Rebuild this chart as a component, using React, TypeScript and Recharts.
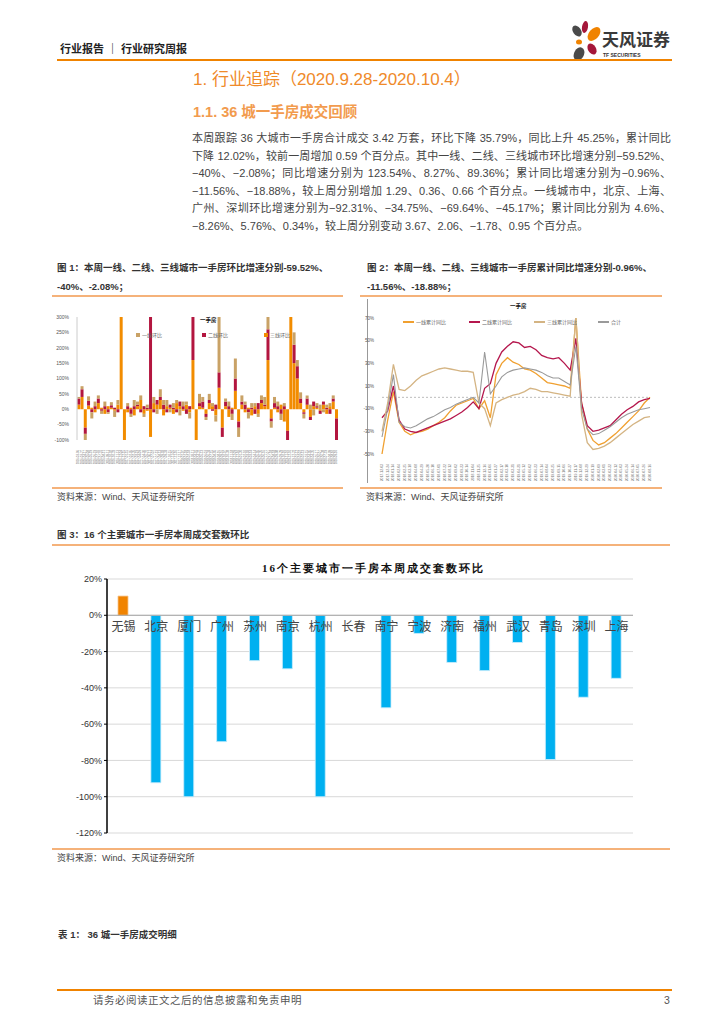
import React from 'react';
import {
  BarChart,
  Bar,
  LineChart,
  Line,
  XAxis,
  YAxis,
  CartesianGrid,
  ReferenceLine,
  ReferenceDot,
  Cell,
} from 'recharts';

// ---- 图3：16个主要城市一手房本周成交套数环比 ----
const cities = ['无锡', '北京', '厦门', '广州', '苏州', '南京', '杭州', '长春', '南宁', '宁波', '济南', '福州', '武汉', '青岛', '深圳', '上海'];
const cityChange = [10.6, -92.31, -100, -69.64, -25, -29.5, -100, 0, -51, -10, -26, -30.5, -15, -79.5, -45.17, -34.75];
const cityTicks = [20, 0, -20, -40, -60, -80, -100, -120];

// ---- 图1：一线、二线、三线城市一手房环比 (周) ----
const tier3Weekly = [
  15, 40, -60, 12, 5, -10, 20, 5, -15, 10,
  5, -5, 15, 300, -100, -10, 5, -20, 10, 30,
  -15, -5, -90, 20, 15, 30, -20, 10, 5, -15,
  20, 10, -5, 15, -10, 160, -100, 10, 5, -15,
  20, 10, -20, 70, -60, 10, -25, 5, 60, -40,
  15, -10, 5, -20, 10, -15, 20, 10, 160, -30,
  5, -10, 15, -40, -70, 300, 150, 100, 20, -10,
  15, -25, 10, 5, -5, 15, -15, 10, 25, -30,
];
const tier2Weekly = [
  20, 25, -20, 15, -10, 10, 15, -5, 10, -10,
  8, 5, -10, 0, -5, 10, -15, 10, 5, -10,
  10, 5, 300, -10, 15, 10, 15, -10, 10, 5,
  -10, 15, 10, -15, 10, 200, 0, 10, 20, -10,
  10, -5, 15, 50, -30, 15, 10, -15, 40, -20,
  10, 15, -10, 5, -15, 20, 10, 5, 100, -10,
  15, 10, -15, 10, -30, 200, 60, 40, 15, -5,
  20, -10, 15, 5, -10, 10, 5, -15, 10, -70,
];
const tier1Weekly = [
  5, 10, -25, 15, -20, 15, 10, -10, 15, -5,
  10, -20, 15, 0, 0, 10, -10, 20, 10, 15,
  -10, 10, 0, 20, -15, 25, 15, 20, -10, 15,
  10, -20, 15, 10, -20, 0, 0, 30, 15, -10,
  20, 10, -20, 180, 0, 10, 15, -20, 65, -30,
  20, 10, -20, 15, 10, -10, 15, 25, 50, -20,
  20, 15, -20, 10, -20, 300, 40, 20, 20, -15,
  10, 15, -20, 10, 15, -10, 10, 10, 10, -10,
];
const weeklyTicks = [-100, -50, 0, 50, 100, 150, 200, 250, 300];

// ---- 图2：一手房累计同比 ----
const tier1Ytd = [-50, -20, 5, -22, -30, -33, -31, -30, -28, -25, -22, -18, -12, -7, -5, -3, -1, -10, -3, -18, 20, 30, 35, 31, 29, 25, 24, 21, 17, 13, 12, 11, 10, 8, 70, -5, -28, -38, -42, -40, -36, -32, -27, -22, -17, -12, -5, 0];
const tier2Ytd = [-18, -12, 10, -20, -28, -30, -31, -29, -27, -25, -23, -21, -19, -16, -13, -9, -4, -10, 8, 12, 30, 40, 45, 49, 48, 44, 45, 42, 37, 35, 34, 35, 30, 24, 52, -5, -25, -30, -29, -27, -25, -20, -15, -11, -8, -4, -2, -1];
const tier3Ytd = [-30, -5, 29, 7, 6, 10, 15, 19, 21, 23, 25, 26, 25, 24, 23, 23, 22, -5, -10, -25, -5, -2, 0, 2, 3, 5, 8, 7, 5, 5, 4, 3, 2, 1, 72, -15, -40, -46, -45, -43, -40, -36, -32, -28, -24, -21, -18, -17];
const totalYtd = [-35, -10, 20, -22, -26, -27, -25, -22, -19, -17, -14, -11, -9, -6, -4, -2, 0, -5, 40, 3, 10, 18, 22, 24, 25, 26, 25, 24, 22, 19, 17, 17, 14, 11, 45, -10, -28, -33, -32, -29, -26, -22, -18, -15, -13, -11, -10, -9];
const ytdTicks = [-50, -30, -10, 10, 30, 50, 70];

const bodyLines = [
  '本周跟踪 36 大城市一手房合计成交 3.42 万套，环比下降 35.79%，同比上升 45.25%，累计同比',
  '下降 12.02%，较前一周增加 0.59 个百分点。其中一线、二线、三线城市环比增速分别−59.52%、',
  '−40%、−2.08%；同比增速分别为 123.54%、8.27%、89.36%；累计同比增速分别为−0.96%、',
  '−11.56%、−18.88%，较上周分别增加 1.29、0.36、0.66 个百分点。一线城市中，北京、上海、',
  '广州、深圳环比增速分别为−92.31%、−34.75%、−69.64%、−45.17%；累计同比分别为 4.6%、',
  '−8.26%、5.76%、0.34%，较上周分别变动 3.67、2.06、−1.78、0.95 个百分点。',
];

const weekLabels = (start: string, n: number, step: number) =>
  Array.from({ length: n }, (_, i) => {
    const d = new Date(start + 'T00:00:00Z');
    d.setUTCDate(d.getUTCDate() + i * step);
    return d.toISOString().slice(0, 10);
  });

const weeklyDates = weekLabels('2016-03-06', tier3Weekly.length, 21);
const ytdDates = weekLabels('2017-12-03', tier1Ytd.length, 21);

const cityData = cities.map((city, i) => ({ city, value: cityChange[i] }));
const weeklyData = weeklyDates.map((date, i) => ({
  date,
  t3: tier3Weekly[i],
  t2: tier2Weekly[i],
  t1: tier1Weekly[i],
}));
const ytdData = ytdDates.map((date, i) => ({
  date,
  t1: tier1Ytd[i],
  t2: tier2Ytd[i],
  t3: tier3Ytd[i],
  all: totalYtd[i],
}));

const SANS = '"Liberation Sans", "Noto Sans CJK SC", sans-serif';
const ORANGE = '#F08300';
const RULE = '#F5B27A';

// category name drawn just under the 0% line
const cityLabel = (name: string) => (props: any) => (
  <text x={props.cx} y={props.cy + 16} textAnchor="middle" fontSize={12} fill="#444" fontFamily={SANS}>
    {name}
  </text>
);

const TinyTick = ({ x, y, payload, size = 3.2 }: any) => (
  <text
    x={x}
    y={y + 2}
    transform={`rotate(-90 ${x} ${y + 2})`}
    textAnchor="end"
    dominantBaseline="middle"
    fontSize={size}
    fill="#777"
  >
    {payload.value}
  </text>
);

const Txt = ({ x, y, size, children, style }: any) => (
  <div
    style={{
      position: 'absolute',
      left: x,
      top: y - size * 0.7,
      fontSize: size,
      lineHeight: `${size * 1.4}px`,
      whiteSpace: 'nowrap',
      ...style,
    }}
  >
    {children}
  </div>
);

const Rule = ({ x1, x2, y, color = RULE, w = 1.5 }: any) => (
  <div style={{ position: 'absolute', left: x1, top: y, width: x2 - x1, height: w, background: color }} />
);

const LegendKey = ({ x, y, color, label, line }: any) => (
  <div style={{ position: 'absolute', left: x, top: y - 3, fontSize: 5, lineHeight: '6px', color: '#666', display: 'flex', alignItems: 'center', whiteSpace: 'nowrap' }}>
    <span style={{ display: 'inline-block', width: line ? 11 : 4, height: line ? 1.2 : 4, background: color, marginRight: 2 }} />
    {label}
  </div>
);

const Logo = () => (
  <svg style={{ position: 'absolute', left: 570, top: 20 }} width={32} height={42} viewBox="0 0 32 42">
    <ellipse cx={7} cy={11} rx={4} ry={6} fill="#4a4a4a" transform="rotate(-35 7 11)" />
    <ellipse cx={15} cy={7} rx={3} ry={6} fill="#A5173A" transform="rotate(10 15 7)" />
    <ellipse cx={24} cy={14} rx={5} ry={8} fill={ORANGE} transform="rotate(40 24 14)" />
    <ellipse cx={9} cy={22} rx={3} ry={2.5} fill={ORANGE} />
    <ellipse cx={22} cy={29} rx={4} ry={6} fill="#A5173A" transform="rotate(-30 22 29)" />
    <ellipse cx={9} cy={34} rx={5} ry={7} fill="#4a4a4a" transform="rotate(25 9 34)" />
  </svg>
);

export default function App() {
  return (
    <div style={{ position: 'relative', width: 724, height: 1024, margin: -8, background: '#fff', fontFamily: SANS, color: '#333', overflow: 'hidden' }}>
      {/* 页眉 */}
      <Txt x={60} y={50} size={11} style={{ fontWeight: 700, color: '#222' }}>行业报告 ｜ 行业研究周报</Txt>
      <Logo />
      <Txt x={602} y={41} size={17} style={{ fontWeight: 700, color: '#3a3a3a' }}>天风证券</Txt>
      <Txt x={603} y={55} size={5} style={{ color: '#333', fontWeight: 700 }}>TF SECURITIES</Txt>
      <Rule x1={57} x2={672} y={59} color={ORANGE} w={2} />

      {/* 标题 */}
      <Txt x={193} y={80} size={17} style={{ color: '#EF8A2A' }}>1. 行业追踪（2020.9.28-2020.10.4）</Txt>
      <Txt x={193} y={112} size={14.5} style={{ color: '#F29B4E', fontWeight: 700 }}>1.1. 36 城一手房成交回顾</Txt>

      {/* 正文 */}
      {bodyLines.map((line, i) => (
        <div
          key={i}
          style={{
            position: 'absolute',
            left: 192,
            top: 130 + i * 17.6,
            width: 479,
            fontSize: 11,
            lineHeight: '16px',
            color: '#444',
            textAlign: 'justify',
            textAlignLast: i < bodyLines.length - 1 ? 'justify' : 'left',
            whiteSpace: 'nowrap',
          }}
        >
          {line}
        </div>
      ))}

      {/* 图1 */}
      <Txt x={57} y={268} size={9.5} style={{ fontWeight: 700 }}>图 1：本周一线、二线、三线城市一手房环比增速分别-59.52%、</Txt>
      <Txt x={57} y={287} size={9.5} style={{ fontWeight: 700 }}>-40%、-2.08%；</Txt>
      <Rule x1={52} x2={343} y={295} />
      <div style={{ position: 'absolute', left: 52, top: 305 }}>
        <BarChart width={290} height={160} data={weeklyData} stackOffset="sign" barCategoryGap="8%" margin={{ top: 12, right: 4, bottom: 5, left: 0 }}>
          <XAxis dataKey="date" interval={0} height={20} tickLine={false} axisLine={false} tick={<TinyTick size={2.8} />} />
          <YAxis
            domain={[-100, 300]}
            ticks={weeklyTicks}
            allowDataOverflow
            width={25}
            axisLine={{ stroke: '#ccc' }}
            tickLine={false}
            tick={{ fontSize: 5, fill: '#555' }}
            tickFormatter={(v) => `${v}%`}
          />
          <Bar dataKey="t3" stackId="w" fill="#F28C00" isAnimationActive={false} />
          <Bar dataKey="t2" stackId="w" fill="#B3163F" isAnimationActive={false} />
          <Bar dataKey="t1" stackId="w" fill="#C9A266" isAnimationActive={false} />
        </BarChart>
      </div>
      <Txt x={200} y={321} size={5.5} style={{ fontWeight: 700, color: '#111' }}>一手房</Txt>
      <LegendKey x={136} y={335} color="#C9A266" label="一线环比" />
      <LegendKey x={202} y={335} color="#B3163F" label="二线环比" />
      <LegendKey x={264} y={335} color="#F28C00" label="三线环比" />
      <Rule x1={52} x2={343} y={487} />
      <Txt x={57} y={497} size={9} style={{ color: '#444' }}>资料来源：Wind、天风证券研究所</Txt>

      {/* 图2 */}
      <Txt x={367} y={268} size={9.5} style={{ fontWeight: 700 }}>图 2：本周一线、二线、三线城市一手房累计同比增速分别-0.96%、</Txt>
      <Txt x={367} y={287} size={9.5} style={{ fontWeight: 700 }}>-11.56%、-18.88%；</Txt>
      <Rule x1={360} x2={662} y={295} />
      <div style={{ position: 'absolute', left: 367, top: 299, width: 1, height: 184, background: '#999' }} />
      <div style={{ position: 'absolute', left: 360, top: 300 }}>
        <LineChart width={297} height={185} data={ytdData} margin={{ top: 18, right: 7, bottom: 5, left: 0 }}>
          <XAxis dataKey="date" interval={0} height={26} tickLine={false} axisLine={false} tick={<TinyTick size={3.4} />} />
          <YAxis
            domain={[-50, 70]}
            ticks={ytdTicks}
            allowDataOverflow
            width={22}
            axisLine={false}
            tickLine={false}
            tick={{ fontSize: 4.5, fill: '#555' }}
            tickFormatter={(v) => `${v}%`}
          />
          <ReferenceLine y={0} stroke="#aaa" strokeDasharray="2 2" strokeWidth={0.8} />
          <Line dataKey="t1" stroke="#F0A030" strokeWidth={1.3} dot={false} isAnimationActive={false} />
          <Line dataKey="t2" stroke="#B5174D" strokeWidth={1.3} dot={false} isAnimationActive={false} />
          <Line dataKey="t3" stroke="#D4B483" strokeWidth={1.3} dot={false} isAnimationActive={false} />
          <Line dataKey="all" stroke="#9a9a9a" strokeWidth={1.1} dot={false} isAnimationActive={false} />
        </LineChart>
      </div>
      <Txt x={510} y={307} size={5.5} style={{ fontWeight: 700, color: '#111' }}>一手房</Txt>
      <LegendKey x={403} y={322} color="#F0A030" label="一线累计同比" line />
      <LegendKey x={469} y={322} color="#B5174D" label="二线累计同比" line />
      <LegendKey x={534} y={322} color="#D4B483" label="三线累计同比" line />
      <LegendKey x={598} y={322} color="#9a9a9a" label="合计" line />
      <Rule x1={360} x2={662} y={487} />
      <Txt x={366} y={497} size={9} style={{ color: '#444' }}>资料来源：Wind、天风证券研究所</Txt>

      {/* 图3 */}
      <Txt x={57} y={535} size={9.5} style={{ fontWeight: 700 }}>图 3：16 个主要城市一手房本周成交套数环比</Txt>
      <Rule x1={52} x2={670} y={544} />
      <Txt x={262} y={569} size={11} style={{ fontWeight: 700, color: '#111', letterSpacing: 2, fontFamily: 'serif' }}>16个主要城市一手房本周成交套数环比</Txt>
      <div style={{ position: 'absolute', left: 57, top: 555 }}>
        <BarChart width={590} height={286} data={cityData} margin={{ top: 24, right: 14, bottom: 8, left: 0 }}>
          <CartesianGrid vertical={false} stroke="#d9d9d9" />
          <XAxis dataKey="city" hide />
          <YAxis
            domain={[-120, 20]}
            ticks={cityTicks}
            width={50}
            axisLine={{ stroke: '#000', strokeWidth: 1.5 }}
            tickLine={{ stroke: '#000' }}
            tickSize={3}
            tick={{ fontSize: 9, fill: '#333' }}
            tickFormatter={(v) => `${v}%`}
          />
          <ReferenceLine y={0} stroke="#a6a6a6" />
          {cities.map((c) => (
            <ReferenceDot key={c} x={c} y={0} r={0} shape={cityLabel(c)} />
          ))}
          <Bar dataKey="value" barSize={10} isAnimationActive={false}>
            {cityData.map((d, i) => (
              <Cell key={i} fill={d.value >= 0 ? ORANGE : '#00B0F0'} stroke={d.value >= 0 ? '#f7c48a' : '#cdeefb'} strokeWidth={0.8} />
            ))}
          </Bar>
        </BarChart>
      </div>
      <Rule x1={52} x2={670} y={848} />
      <Txt x={57} y={858} size={9} style={{ color: '#444' }}>资料来源：Wind、天风证券研究所</Txt>

      {/* 表1 */}
      <Txt x={58} y={935} size={9.5} style={{ fontWeight: 700 }}>表 1：  36 城一手房成交明细</Txt>

      {/* 页脚 */}
      <Rule x1={57} x2={672} y={989} color={ORANGE} w={2} />
      <Txt x={93} y={1000} size={10.5} style={{ color: '#555', letterSpacing: 0.5 }}>请务必阅读正文之后的信息披露和免责申明</Txt>
      <Txt x={664} y={1000} size={10.5} style={{ color: '#555' }}>3</Txt>
    </div>
  );
}
